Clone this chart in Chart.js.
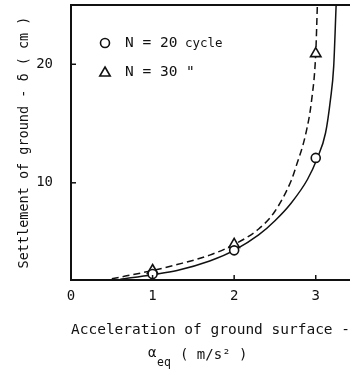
<!DOCTYPE html>
<html><head><meta charset="utf-8">
<script src="https://cdn.jsdelivr.net/npm/chart.js@4.4.1/dist/chart.umd.min.js"></script>
<style>html,body{margin:0;padding:0;background:#fff;}#wrap{position:relative;width:350px;height:373px;}</style>
</head><body><div id="wrap"><canvas id="c" width="350" height="373"></canvas></div>
<script>
// ---- data ----
const xTickValues = [0, 1, 2, 3];
const yTickValues = [10, 20];
const pointX = [1, 2, 3];
const n20Y = [2.3, 4.3, 12.1];
const n30Y = [2.6, 4.8, 20.9];
const n20CurveX = [0.6, 1.0, 1.3, 1.7, 2.0, 2.3, 2.5, 2.7, 2.9, 3.02, 3.12, 3.18, 3.22, 3.25];
const n20CurveY = [1.85, 2.25, 2.6, 3.4, 4.3, 5.6, 6.8, 8.3, 10.3, 12.1, 14.2, 17.0, 19.8, 25];
const n30CurveX = [0.5, 1.0, 1.3, 1.7, 2.0, 2.3, 2.5, 2.7, 2.76, 2.88, 2.95, 3.0, 3.02];
const n30CurveY = [1.9, 2.6, 3.1, 3.9, 4.8, 6.1, 7.6, 10.2, 11.4, 14.2, 17.0, 20.9, 25];
const legendMain = ['N = 20', 'N = 30 "'];
const legendSuffix = ['cycle', ''];
const xTitle = 'Acceleration of ground surface -';
const xTitleSymbol = 'α';
const xTitleSub = 'eq';
const xTitleUnit = '( m/s² )';
const yTitle = 'Settlement of ground - δ ( cm )';

const MONO = '"DejaVu Sans Mono", "Liberation Mono", monospace';
const INK = '#111';
const toXY = (xs, ys) => xs.map((v, i) => ({x: v, y: ys[i]}));
const noPad = s => { s.paddingTop = 0; s.paddingBottom = 0; s.paddingLeft = 0; s.paddingRight = 0; };

const inwardTicks = {
  id: 'inwardTicks',
  afterDatasetsDraw(chart) {
    const {ctx, chartArea, scales} = chart;
    ctx.save();
    ctx.strokeStyle = INK; ctx.lineWidth = 1.5;
    xTickValues.forEach(v => {
      if (v === 0) return;
      const px = scales.x.getPixelForValue(v);
      ctx.beginPath(); ctx.moveTo(px, chartArea.bottom); ctx.lineTo(px, chartArea.bottom - 5); ctx.stroke();
    });
    yTickValues.forEach(v => {
      const py = scales.y.getPixelForValue(v);
      ctx.beginPath(); ctx.moveTo(chartArea.left, py); ctx.lineTo(chartArea.left + 5, py); ctx.stroke();
    });
    ctx.restore();
  }
};

const extraText = {
  id: 'extraText',
  afterDraw(chart) {
    const {ctx, chartArea} = chart;
    const H = Chart.helpers;
    ctx.save();
    ctx.fillStyle = INK;
    ctx.textBaseline = 'middle';
    ctx.textAlign = 'left';
    // legend
    const styles = ['circle', 'triangle'];
    const radii = [4.5, 6];
    const rows = [chartArea.top + 38, chartArea.top + 67];
    rows.forEach((yy, i) => {
      ctx.strokeStyle = INK; ctx.fillStyle = '#fff'; ctx.lineWidth = 1.6;
      H.drawPoint(ctx, {pointStyle: styles[i], radius: radii[i], borderWidth: 1.6, rotation: 0}, chartArea.left + 34, yy + (i === 1 ? 1 : 0));
      ctx.fillStyle = INK;
      ctx.font = '14.5px ' + MONO;
      ctx.fillText(legendMain[i], chartArea.left + 54, yy);
      if (legendSuffix[i]) {
        ctx.font = '12.5px ' + MONO;
        ctx.fillText(legendSuffix[i], chartArea.left + 114, yy + 1);
      }
    });
    // x title second line
    const baseY = 355;
    ctx.font = '14px ' + MONO;
    ctx.fillText(xTitleSymbol, 148, baseY - 2);
    ctx.font = '11.5px ' + MONO;
    ctx.fillText(xTitleSub, 157, baseY + 8);
    ctx.font = '14px ' + MONO;
    ctx.fillText(xTitleUnit, 180, baseY);
    ctx.restore();
  }
};

new Chart(document.getElementById('c'), {
  type: 'scatter',
  data: {
    datasets: [
      {label: 'N = 20 cycle', data: toXY(pointX, n20Y), pointStyle: 'circle', pointRadius: 4.5,
       pointBackgroundColor: '#fff', pointBorderColor: INK, pointBorderWidth: 1.6, showLine: false, order: 0},
      {label: 'N = 30', data: toXY(pointX, n30Y), pointStyle: 'triangle', pointRadius: 6,
       pointBackgroundColor: '#fff', pointBorderColor: INK, pointBorderWidth: 1.6, showLine: false, order: 0},
      {label: 'N = 20 curve', data: toXY(n20CurveX, n20CurveY), showLine: true, pointRadius: 0,
       borderColor: INK, borderWidth: 1.5, cubicInterpolationMode: 'monotone', fill: false, order: 1},
      {label: 'N = 30 curve', data: toXY(n30CurveX, n30CurveY), showLine: true, pointRadius: 0,
       borderColor: INK, borderWidth: 1.5, borderDash: [7, 4], cubicInterpolationMode: 'monotone', fill: false, order: 1}
    ]
  },
  options: {
    responsive: false, animation: false, devicePixelRatio: 1,
    layout: {autoPadding: false, padding: {top: 5, right: 0, bottom: 0, left: 0}},
    plugins: {legend: {display: false}, tooltip: {enabled: false}},
    scales: {
      x: {
        type: 'linear', position: 'bottom', min: 0, max: 3.42,
        afterBuildTicks: s => { s.ticks = xTickValues.map(v => ({value: v})); },
        afterFit: s => { s.height = 93; noPad(s); },
        ticks: {color: INK, font: {family: MONO, size: 14}, padding: 8, maxRotation: 0, autoSkip: false},
        grid: {display: false, drawTicks: false},
        border: {display: true, width: 2, color: INK},
        title: {display: true, text: xTitle, color: INK, font: {family: MONO, size: 14.5}, padding: {top: 0, bottom: 34}}
      },
      x2: {
        type: 'linear', position: 'top', min: 0, max: 3.42,
        afterFit: s => { s.height = 0; noPad(s); },
        ticks: {display: false},
        grid: {display: false, drawTicks: false},
        border: {display: true, width: 2, color: INK}
      },
      y: {
        type: 'linear', position: 'left', min: 1.8, max: 25,
        afterBuildTicks: s => { s.ticks = yTickValues.map(v => ({value: v})); },
        afterFit: s => { s.width = 71; noPad(s); },
        ticks: {color: INK, font: {family: MONO, size: 14}, padding: 18},
        grid: {display: false, drawTicks: false},
        border: {display: true, width: 2, color: INK},
        title: {display: true, text: yTitle, color: INK, font: {family: MONO, size: 13.5}, padding: {top: 16, bottom: 0}}
      }
    }
  },
  plugins: [inwardTicks, extraText]
});
</script>
</body></html>
